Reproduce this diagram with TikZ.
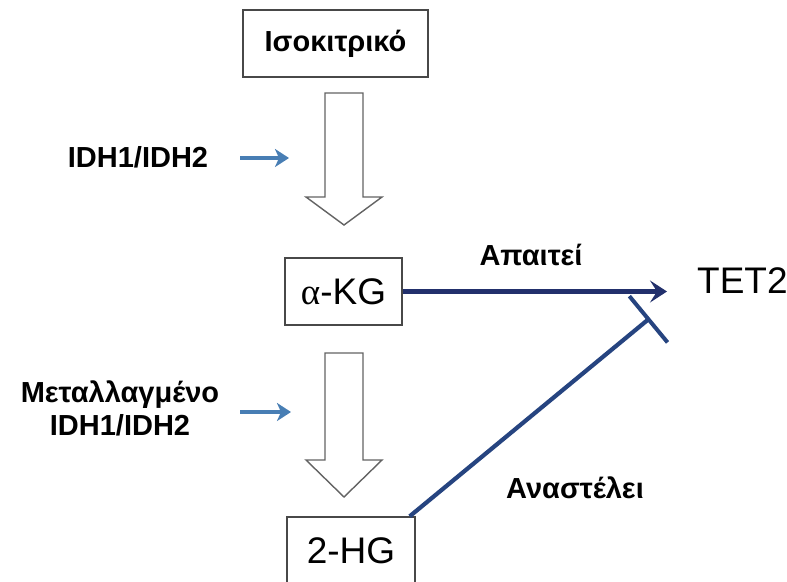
\documentclass[tikz,border=0pt]{standalone}
\usepackage{fontspec}
\setmainfont{Liberation Sans}
\newfontfamily\serifa{Liberation Serif}
\usetikzlibrary{arrows.meta}
\definecolor{navy}{RGB}{34,48,108}
\definecolor{navyb}{RGB}{38,68,128}
\definecolor{steel}{RGB}{72,126,180}
\definecolor{boxgray}{RGB}{72,72,72}
\begin{document}
\begin{tikzpicture}[x=1pt,y=-1pt,
 box/.style={draw=boxgray, line width=1.4pt, inner sep=0pt, minimum height=67pt, font=\fontsize{37}{40}\selectfont},
 lab/.style={font=\fontsize{29}{33}\selectfont\bfseries, align=center, inner sep=0pt},
 big/.style={font=\fontsize{37}{40}\selectfont, inner sep=0pt},
 hollow/.style={draw=boxgray!85, line width=1.4pt, fill=white, line join=miter},
 small/.style={draw=steel, line width=4pt, -{Stealth[length=14pt,width=18pt,inset=4pt]}},
 main/.style={line width=4.2pt}]
\useasboundingbox (0,0) rectangle (787,581);
\fill[white] (0,0) rectangle (787,581);
% boxes
\node[box, minimum width=185pt, font=\fontsize{29}{33}\selectfont\bfseries] (iso) at (335.5,43.5) {Ισοκιτρικό};
\node[box, minimum width=117pt] (akg) at (343.5,291.5) {{\serifa α}-KG};
\node[box, minimum width=128pt] (hg) at (351,550.5) {2-HG};
\node[big, anchor=west] (tet) at (697,281) {TET2};
% hollow arrows
\draw[hollow] (325,93) -- (363,93) -- (363,197) -- (382,197) -- (344,225) -- (306,197) -- (325,197) -- cycle;
\draw[hollow] (325,353) -- (363,353) -- (363,460) -- (382,460) -- (344,497) -- (306,460) -- (325,460) -- cycle;
% labels
\node[lab] (idh) at (138,157) {IDH1/IDH2};
\node[lab] (midh) at (120,408) {Μεταλλαγμένο\\IDH1/IDH2};
\node[lab] (req) at (531,255) {Απαιτεί};
\node[lab] (inhl) at (575,488) {Αναστέλει};
% small blue arrows
\coordinate (s1) at (240,158);
\coordinate (e1) at (289,158);
\coordinate (s2) at (240,412);
\coordinate (e2) at (291,412);
\draw[small] (s1) -- (e1);
\draw[small] (s2) -- (e2);
% main connectors
\draw[main, draw=navy, -{Stealth[length=17pt,width=22pt,inset=7pt]}, shorten >=30pt] (akg.east) -- (akg.east -| tet.west);
\coordinate (inh) at (650,318);
\draw[main, draw=navyb, -{Bar[width=60pt,line width=4pt]}] ([xshift=-6pt]hg.north east) -- (inh);
\end{tikzpicture}
\end{document}
